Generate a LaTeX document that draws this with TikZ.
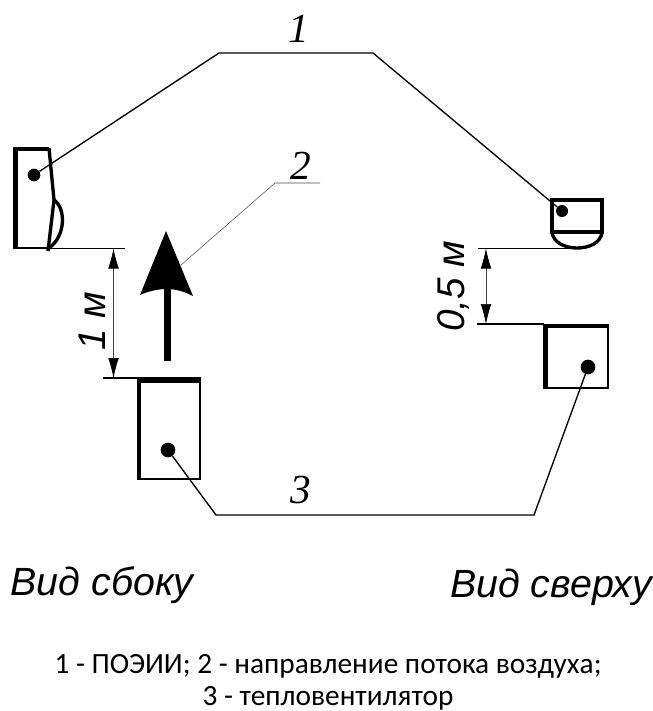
\documentclass[tikz,border=0pt]{standalone}
\usepackage{fontspec}
\setmainfont{Liberation Sans}
\newfontfamily\serifit{Liberation Serif}
\newfontfamily\captionfont{Carlito}
\usetikzlibrary{arrows.meta}
\tikzset{
  device/.style  = { line width=#1, line cap=butt },
  wire/.style    = { line width=1pt, line join=miter },
  spot/.style    = { circle, fill=black, inner sep=0pt, minimum size=#1 },
  extent/.style  = { line width=1pt },
  dimen/.style   = { line width=0.5pt, black!75, {Latex[length=15pt,width=8pt,black]}-{Latex[length=15pt,width=8pt,black]} },
  leader/.style  = { line width=0.4pt, black!70 },
  number/.style  = { font=\serifit\itshape\fontsize{31}{31}\selectfont, inner sep=0pt },
  size/.style    = { font=\itshape\fontsize{29}{29}\selectfont, inner sep=0pt, rotate=90 },
  view/.style    = { font=\itshape\fontsize{29.5}{29.5}\selectfont, inner sep=0pt, anchor=base },
  note/.style    = { font=\captionfont\fontsize{22}{22}\selectfont, inner sep=0pt, anchor=base }
}
\begin{document}
\begin{tikzpicture}[x=0.75pt,y=-0.75pt]
    \useasboundingbox (0,0) rectangle (653,711);

    % side view
    \draw[device=2pt] (15,248) -- (48,248);
    \draw[device=3pt] (13,148.5) -- (49,148.5);
    \draw[device=3.75pt] (15.5,147) -- (15.5,249);
    \draw[device=2.5pt] (49,148) -- (54,200) -- (48,251);
    \draw[device=2.5pt] (54,200) .. controls (66,208) and (66,236) .. (49,248);
    \node[spot=9.5pt] (sidespot) at (34,175) {};

    % top view
    \draw[device=2.5pt] (552,232) -- (552,200) -- (602,200) -- (602,232) -- cycle;
    \draw[device=2.5pt] (552,232) .. controls (553,243) and (566,248) .. (577,248) .. controls (589,248) and (601,243) .. (602,232);
    \node[spot=9pt] (topspot) at (562,211) {};

    % heater, both views
    \draw[device=2pt] (138.5,378) rectangle (200,479);
    \draw[device=3pt] (139,377) -- (139,480);
    \draw[device=4.5pt] (137,379.5) -- (201,379.5);
    \node[spot=11pt] (heatspot) at (168,450) {};

    \draw[device=2pt] (544.5,325) rectangle (608,388);
    \draw[device=3.5pt] (545.5,324) -- (545.5,389);
    \draw[device=3pt] (544,325.5) -- (609,325.5);
    \node[spot=11pt] (fanspot) at (588,367) {};

    % sensor and heater wires
    \coordinate (wirea) at (219,53);
    \coordinate (wireb) at (373,53);
    \coordinate (wirec) at (216,515);
    \coordinate (wired) at (534,515);
    \draw[wire] (sidespot) -- (wirea) -- (wireb) -- (topspot);
    \draw[wire] (heatspot) -- (wirec) -- (wired) -- (fanspot);

    % air flow
    \fill (163.5,361) rectangle (171,285);
    \fill (166,231) -- (193,296) .. controls (183,291) and (175,289) .. (167,289)
          .. controls (158,289) and (149,291) .. (140,295) -- cycle;

    % extents
    \coordinate (sidelow) at (113.5,248.5);
    \coordinate (heattop) at (113.5,378);
    \coordinate (toplow) at (486,248.5);
    \coordinate (fantop) at (486,324);
    \draw[extent] (48,248.5) -- (125,248.5);
    \draw[extent] (103,378) -- (137,378);
    \draw[extent] (478,248.5) -- (575,248.5);
    \draw[extent] (477,324) -- (544,324);
    \draw[dimen] (sidelow) -- (heattop);
    \draw[dimen] (toplow) -- (fantop);

    % flow leader
    \coordinate (leadera) at (181,265);
    \coordinate (leaderb) at (275,183);
    \coordinate (leaderc) at (320,183);
    \draw[leader] (leadera) -- (leaderb) -- (leaderc);

    % labels
    \node[number] (numa) at (299,29) {1};
    \node[number] (numb) at (301,165.5) {2};
    \node[number] (numc) at (301,490) {3};
    \node[size] (dista) at (92,321) {1 м};
    \node[size] (distb) at (453,286) {0,5 м};
    \node[view] (sideview) at (102,595) {Вид сбоку};
    \node[view] (topview) at (551,597) {Вид сверху};
    \node[note] (notea) at (328,673) {1 - ПОЭИИ; 2 - направление потока воздуха;};
    \node[note] (noteb) at (328,705) {3 - тепловентилятор};
\end{tikzpicture}
\end{document}
